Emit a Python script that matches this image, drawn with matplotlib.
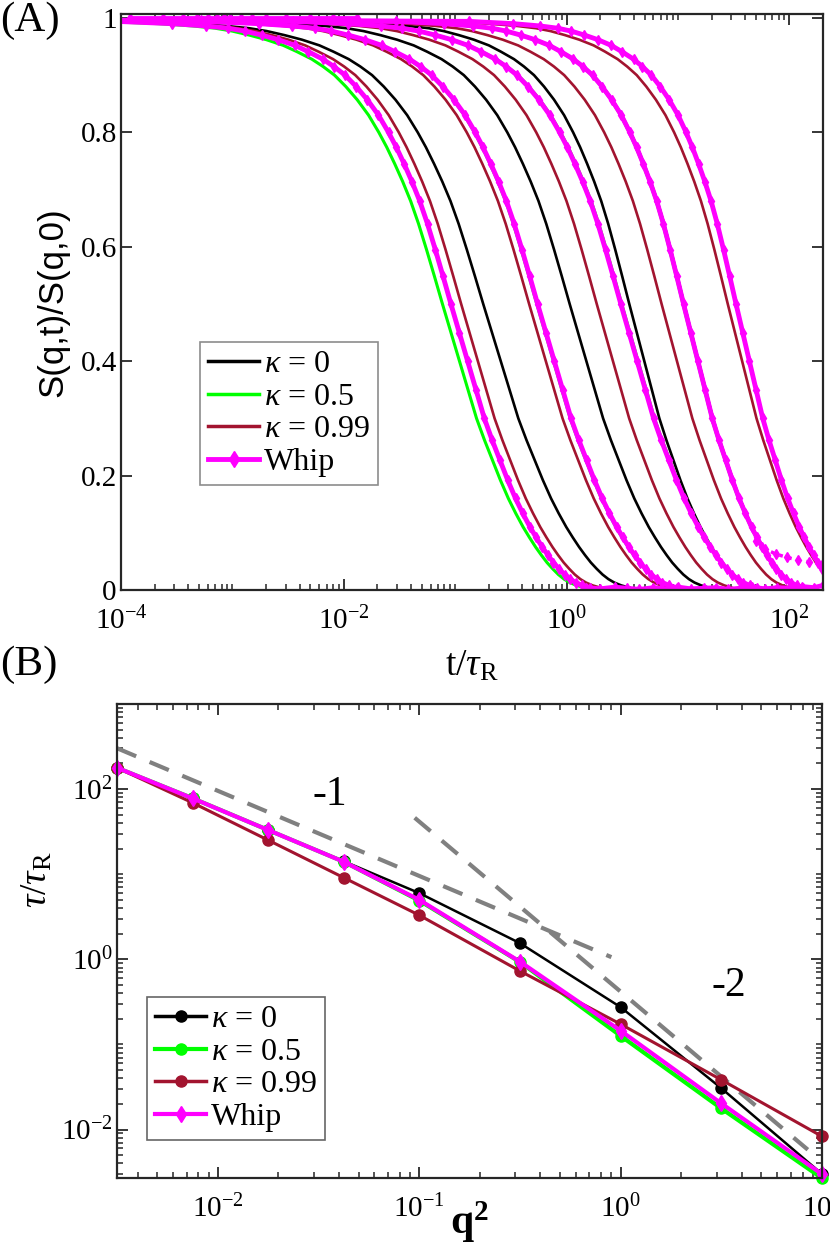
import numpy as np
import matplotlib
matplotlib.use('Agg')
import matplotlib.pyplot as plt
from matplotlib.ticker import FixedLocator, FixedFormatter, LogLocator, NullFormatter

plt.rcParams['font.family'] = ['Liberation Serif', 'DejaVu Serif']
plt.rcParams['mathtext.fontset'] = 'custom'
plt.rcParams['mathtext.rm'] = 'Liberation Serif'
plt.rcParams['mathtext.it'] = 'Liberation Serif:italic'
plt.rcParams['mathtext.bf'] = 'Liberation Serif:bold'
plt.rcParams['axes.unicode_minus'] = False

BLACK = 'black'
GREEN = '#00ff00'
RED = '#A2142F'
MAG = '#ff00ff'
GREY = '#808080'
AXC = '#262626'

# ---- panel A: decay curves ----
# common curve shape: offset (decades) from the half-decay time, and S value
shape_offset = [-6.0, -3.0, -2.5, -2.2, -2.0, -1.85, -1.7, -1.55, -1.4, -1.28, -1.15, -1.05,
                -0.95, -0.85, -0.75, -0.65, -0.56, -0.49, -0.42, -0.35, -0.28, -0.21, -0.14,
                -0.07, 0.0, 0.075, 0.15, 0.225, 0.30, 0.37, 0.44, 0.51, 0.58, 0.645, 0.71,
                0.765, 0.82, 0.87, 0.92, 0.97, 1.02, 1.07, 1.12, 1.18, 1.25]
shape_s = [0.996, 0.994, 0.990, 0.986, 0.982, 0.977, 0.970, 0.962, 0.952, 0.941, 0.928, 0.915,
           0.900, 0.880, 0.857, 0.830, 0.800, 0.774, 0.745, 0.714, 0.680, 0.640, 0.595,
           0.548, 0.500, 0.450, 0.400, 0.350, 0.300, 0.262, 0.227, 0.192, 0.160, 0.134, 0.110,
           0.092, 0.075, 0.061, 0.048, 0.037, 0.027, 0.019, 0.013, 0.008, 0.004]

# log10 of half-decay time and relative width of each curve
thalf_k0 = [-0.749, 0.027, 0.562, 1.055]
width_k0 = [1.05, 1.0, 0.9, 0.86]
thalf_k05 = [-1.115, -0.268, 0.494, 1.044]
width_k05 = [1.02, 1.0, 0.98, 0.86]
thalf_k099 = [-0.947, -0.337, 0.270, 0.852, 1.446]
width_k099 = [1.0, 1.0, 0.97, 0.92, 0.86]
thalf_whip = [-1.039, -0.261, 0.486, 1.049, 1.520]
width_whip = [1.0, 1.0, 0.98, 0.86, 0.80]

# Whip: early samples at S=1, noisy floor, and the slow tail of the 4th curve
whip_t_early = [1.2e-4, 2.4e-4, 3.6e-4, 4.8e-4, 6.0e-4, 7.2e-4, 8.4e-4, 9.6e-4, 1.2e-3,
                1.5e-3, 2e-3, 3e-3, 5e-3, 8e-3, 1.3e-2]
whip_s_early = [1.0] * len(whip_t_early)
whip_floor_t = [1.5, 2, 2.7, 3.5, 4.5, 6, 8, 10, 13, 17, 22, 28, 36, 46, 60, 78, 100, 130, 165, 200]
whip_floor_s = [0.004, 0.002, 0.005, 0.003, 0.001, 0.004, 0.002, 0.005, 0.002, 0.003,
                0.004, 0.001, 0.003, 0.005, 0.002, 0.004, 0.003, 0.006, 0.004, 0.008]
whip_tail_t = [50, 60, 75, 95, 120, 150, 200]
whip_tail_s = [0.085, 0.072, 0.063, 0.057, 0.052, 0.049, 0.047]

a_yticks = [0, 0.2, 0.4, 0.6, 0.8, 1]
a_yticklabels = ['0', '0.2', '0.4', '0.6', '0.8', '1']
a_xticks = [1e-4, 1e-2, 1e0, 1e2]
a_xticklabels = ['10$^{-4}$', '10$^{-2}$', '10$^{0}$', '10$^{2}$']

# ---- panel B: relaxation time vs q^2 ----
q2 = [0.00316, 0.0075, 0.0178, 0.0422, 0.1, 0.316, 1.0, 3.16, 10.0]
tau_k0 = [178, 78, 33, 14.2, 6.0, 1.55, 0.274, 0.0306, 0.0030]
tau_k05 = [178, 78, 33, 14.0, 4.9, 0.93, 0.126, 0.0177, 0.00268]
tau_k099 = [178, 69, 25.1, 9.1, 3.3, 0.73, 0.173, 0.0384, 0.0083]
tau_whip = [178, 77.8, 33, 14.0, 5.0, 0.94, 0.145, 0.0203, 0.00299]
guide1_q2 = [0.00316, 0.9]
guide1_tau = [302, 1.06]
guide2_q2 = [0.095, 8.5]
guide2_tau = [46, 0.0058]

b_xticks = [1e-2, 1e-1, 1e0, 1e1]
b_xticklabels = ['10$^{-2}$', '10$^{-1}$', '10$^{0}$', '10$^{1}$']
b_yticks = [1e-2, 1e0, 1e2]
b_yticklabels = ['10$^{-2}$', '10$^{0}$', '10$^{2}$']

labels = [r'$\kappa$ = 0', r'$\kappa$ = 0.5', r'$\kappa$ = 0.99', 'Whip']


def curve(thalf, w):
    off = np.array(shape_offset)
    return 10 ** (thalf + w * off), np.array(shape_s)


def style_axes(ax):
    for sp in ax.spines.values():
        sp.set_linewidth(1.6)
        sp.set_color(AXC)
    ax.tick_params(which='both', direction='in', top=True, right=True, colors=AXC,
                   labelcolor='black', labelsize=21)
    ax.tick_params(which='major', length=8, width=1.3)
    ax.tick_params(which='minor', length=4, width=1.1)
    ax.tick_params(axis='x', which='major', pad=12)
    ax.tick_params(axis='y', which='major', pad=3)


fig = plt.figure(figsize=(8.3, 12.55), dpi=100)

axA = fig.add_axes([0.1458, 0.5299, 0.8458, 0.4590])
for th, w in zip(thalf_k0, width_k0):
    t, s = curve(th, w)
    axA.plot(t, s, color=BLACK, lw=1.9)
for th, w in zip(thalf_k05, width_k05):
    t, s = curve(th, w)
    axA.plot(t, s, color=GREEN, lw=2.2)
for th, w in zip(thalf_k099, width_k099):
    t, s = curve(th, w)
    axA.plot(t, s, color=RED, lw=1.9)
for th, w in zip(thalf_whip, width_whip):
    t, s = curve(th, w)
    axA.plot(t, s, color=MAG, lw=3.5, marker='d', ms=5.5)
axA.plot(whip_t_early, whip_s_early, color=MAG, lw=3.5, marker='d', ms=5.5)
axA.plot(whip_floor_t, whip_floor_s, color=MAG, lw=3.5, marker='d', ms=5.5)
axA.plot(whip_tail_t, whip_tail_s, color=MAG, ls=':', lw=2.5, marker='d', ms=5.5)

axA.set_xscale('log')
axA.set_xlim(1e-4, 200)
axA.set_ylim(0, 1.007)
axA.xaxis.set_major_locator(FixedLocator(a_xticks))
axA.xaxis.set_major_formatter(FixedFormatter(a_xticklabels))
axA.xaxis.set_minor_locator(LogLocator(base=10, subs=np.arange(1, 10), numticks=50))
axA.xaxis.set_minor_formatter(NullFormatter())
axA.set_yticks(a_yticks)
axA.set_yticklabels(a_yticklabels)
style_axes(axA)
axA.set_ylabel('S(q,t)/S(q,0)', family=['Liberation Sans', 'DejaVu Sans'], fontsize=25)
axA.yaxis.set_label_coords(-0.073, 0.5)
axA.set_xlabel(r'$\mathregular{t/}\tau_\mathregular{R}$', fontsize=27, labelpad=10)

handlesA = [plt.Line2D([], [], color=BLACK, lw=2.5),
            plt.Line2D([], [], color=GREEN, lw=2.5),
            plt.Line2D([], [], color=RED, lw=2.5),
            plt.Line2D([], [], color=MAG, lw=3.5, marker='d', ms=8)]
legA = axA.legend(handlesA, labels, loc='upper left', bbox_to_anchor=(0.1125, 0.4306),
                  fontsize=23, frameon=True, fancybox=False, handlelength=1.6,
                  handletextpad=0.15, borderpad=0.25, labelspacing=0.1, borderaxespad=0)
legA.get_frame().set_edgecolor('#707070')
legA.get_frame().set_linewidth(1.2)

axB = fig.add_axes([0.141, 0.0614, 0.8494, 0.3777])
axB.plot(guide1_q2, guide1_tau, color=GREY, lw=3, ls=(0, (5, 3.5)))
axB.plot(guide2_q2, guide2_tau, color=GREY, lw=3, ls=(0, (5, 3.5)))
axB.plot(q2, tau_k0, color=BLACK, lw=1.8, marker='o', ms=8, clip_on=False)
axB.plot(q2, tau_k05, color=GREEN, lw=3, marker='o', ms=8, clip_on=False)
axB.plot(q2, tau_k099, color=RED, lw=2.2, marker='o', ms=8, clip_on=False)
axB.plot(q2, tau_whip, color=MAG, lw=3, marker='d', ms=8, clip_on=False)
axB.text(0.036, 85, '-1', fontsize=30, ha='center', va='center')
axB.text(3.46, 0.49, '-2', fontsize=30, ha='center', va='center')

axB.set_xscale('log')
axB.set_yscale('log')
axB.set_xlim(10 ** -2.5, 10)
axB.set_ylim(0.0027, 1000)
axB.xaxis.set_major_locator(FixedLocator(b_xticks))
axB.xaxis.set_major_formatter(FixedFormatter(b_xticklabels))
axB.xaxis.set_minor_locator(LogLocator(base=10, subs=np.arange(1, 10), numticks=50))
axB.xaxis.set_minor_formatter(NullFormatter())
axB.yaxis.set_major_locator(FixedLocator(b_yticks))
axB.yaxis.set_major_formatter(FixedFormatter(b_yticklabels))
axB.yaxis.set_minor_locator(LogLocator(base=10, subs=np.arange(1, 10), numticks=50))
axB.yaxis.set_minor_formatter(NullFormatter())
style_axes(axB)
axB.set_xlabel(r'$\mathbf{q^2}$', fontsize=30, labelpad=-17)
axB.set_ylabel(r'$\tau/\tau_\mathregular{R}$', fontsize=27)
axB.yaxis.set_label_coords(-0.088, 0.63)

handlesB = [plt.Line2D([], [], color=BLACK, lw=2.5, marker='o', ms=8),
            plt.Line2D([], [], color=GREEN, lw=3, marker='o', ms=8),
            plt.Line2D([], [], color=RED, lw=2.5, marker='o', ms=8),
            plt.Line2D([], [], color=MAG, lw=3, marker='d', ms=8)]
legB = axB.legend(handlesB, labels, loc='upper left', bbox_to_anchor=(0.0426, 0.382),
                  fontsize=23, frameon=True, fancybox=False, handlelength=1.6,
                  handletextpad=0.15, borderpad=0.25, labelspacing=0.1, borderaxespad=0)
legB.get_frame().set_edgecolor('#404040')
legB.get_frame().set_linewidth(1.2)

fig.text(0.0, 1.0 - 1 / 1255, '(A)', fontsize=31, ha='left', va='top')
fig.text(0.0, 1.0 - 646 / 1255, '(B)', fontsize=31, ha='left', va='top')

fig.savefig('out.png', dpi=100)
